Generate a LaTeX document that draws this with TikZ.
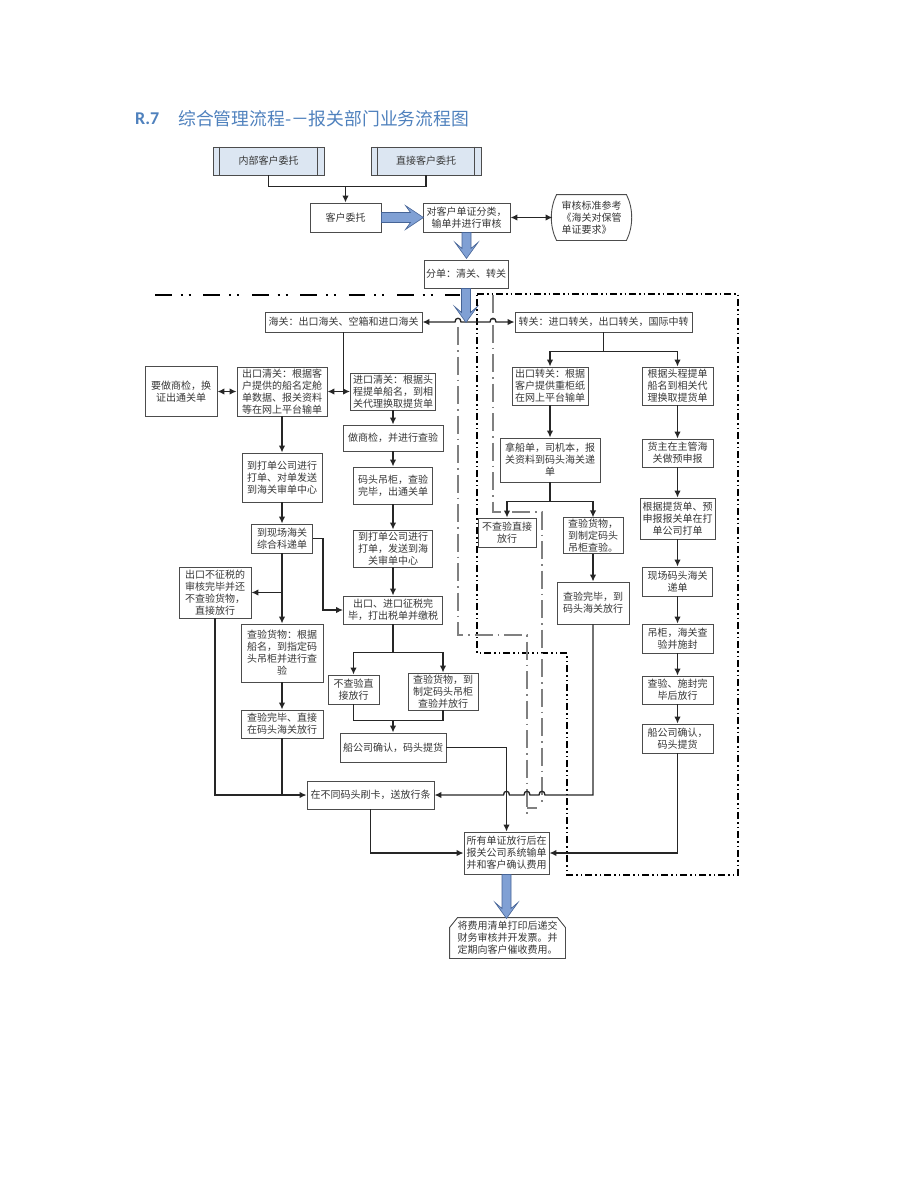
\documentclass[tikz,border=0pt]{standalone}
\usepackage{fontspec}
\usepackage{tikz}
\usetikzlibrary{calc,shapes,arrows.meta}
\newfontfamily\cjk{Noto Sans CJK SC}
\newfontfamily\latinf{Carlito}
\definecolor{titleblue}{RGB}{79,129,189}
\definecolor{blockblue}{RGB}{128,160,212}
\definecolor{blockedge}{RGB}{70,100,150}
\definecolor{boxfill}{RGB}{220,230,242}
\definecolor{textgray}{RGB}{55,55,55}
\tikzset{
  flowbox/.style={draw=black!70, line width=0.9pt, fill=white, align=center, inner sep=1pt,
    font=\cjk\fontsize{10}{12}\selectfont, text=textgray},
  shapetext/.style={flowbox, draw=none, fill=none},
  outline/.style={draw=black!70, line width=0.9pt},
  conn/.style={line width=1.3pt, black!85},
  blockarrow/.style={fill=blockblue, draw=blockedge, line width=0.6pt},
  zonea/.style={line width=2pt, dash pattern=on 16.7pt off 9pt on 2pt off 6pt on 2pt off 12.7pt},
  zoneb/.style={line width=2pt, dash pattern=on 7pt off 3pt on 1.5pt off 3pt on 1.5pt off 3pt},
  zonec/.style={line width=1.8pt, gray, dash pattern=on 18pt off 5pt on 1.5pt off 5pt},
  >={Latex[length=7pt,width=6.5pt]}
}
% blue block arrow pointing down: start point, length
\newcommand{\blockdown}[2]{%
  \filldraw[blockarrow] (#1) ++(-4.5,0) -- ++(0,#2-10) -- ++(-7,-6) -- ++(11.5,16)
    -- ++(11.5,-16) -- ++(-7,6) -- ++(0,10-#2) -- cycle;}

\begin{document}
\begin{tikzpicture}[x=1pt,y=-1pt]
\useasboundingbox (0,0) rectangle (920,1191);

% title
\node[anchor=west, inner sep=0, text=titleblue, font=\latinf\bfseries\fontsize{18}{20}\selectfont] (rnum) at (135,119) {R.7};
\node[anchor=west, inner sep=0, text=titleblue, font=\cjk\fontsize{17.8}{20}\selectfont] (title) at (178,119) {综合管理流程-－报关部门业务流程图};

% zone lines
\draw[zonea] (155,295) -- (460,295);
\draw[zoneb] (477,294) -- (738,294) -- (738,875) -- (567,875) -- (567,653) -- (477,653) -- cycle;
\draw[zonec] (458,327) -- (458,635) -- (527,635) -- (527,818);
\draw[gray, line width=1.8pt] (527,808) -- (537,808);
\draw[zonec] (493,295) -- (493,512) -- (542,512) -- (542,805);

% top part
\node[flowbox, fill=boxfill, minimum width=111pt, minimum height=28pt] (nbkh) at (268.5,161) {内部客户委托};
\node[flowbox, fill=boxfill, minimum width=110pt, minimum height=28pt] (zjkh) at (426,161) {直接客户委托};
\foreach \n in {nbkh,zjkh}
  \draw[outline] ([xshift=7pt]\n.north west) -- ([xshift=7pt]\n.south west)
    ([xshift=-7pt]\n.north east) -- ([xshift=-7pt]\n.south east);
\node[flowbox, minimum width=71pt, minimum height=29pt] (khwt) at (345.5,217.5) {客户委托};
\node[flowbox, minimum width=87pt, minimum height=29pt] (dzfl) at (466.5,217.5) {对客户单证分类，\\输单并进行审核};
\node[shapetext, align=left, minimum width=77pt, minimum height=45pt] (shbz) at (591.5,217.5) {审核标准参考\\《海关对保管\\单证要求》};
\draw[outline] ([xshift=4pt]shbz.north west) -- ([xshift=-4pt]shbz.north east)
  .. controls ([xshift=3pt,yshift=-14pt]shbz.north east) and ([xshift=3pt,yshift=14pt]shbz.south east) .. ([xshift=-4pt]shbz.south east)
  -- ([xshift=4pt]shbz.south west)
  .. controls ([xshift=-3pt,yshift=14pt]shbz.south west) and ([xshift=-3pt,yshift=-14pt]shbz.north west) .. cycle;
\node[flowbox, minimum width=84pt, minimum height=28pt] (fd) at (466,274) {分单：清关、转关};

% customs side
\node[flowbox, minimum width=157pt, minimum height=20pt] (hg) at (343.5,322) {海关：出口海关、空箱和进口海关};
\node[flowbox, minimum width=72pt, minimum height=50pt] (sj) at (181,391.5) {要做商检，换\\证出通关单};
\node[flowbox, minimum width=90pt, minimum height=49pt] (ckqg) at (282,391.5) {出口清关：根据客\\户提供的船名定舱\\单数据、报关资料\\等在网上平台输单};
\node[flowbox, minimum width=85pt, minimum height=37pt] (jkqg) at (393,391.5) {进口清关：根据头\\程提单船名，到相\\关代理换取提货单};
\node[flowbox, minimum width=100pt, minimum height=26pt] (zsj) at (393,438) {做商检，并进行查验};
\node[flowbox, minimum width=80pt, minimum height=49pt] (ddgs1) at (282,477.5) {到打单公司进行\\打单、对单发送\\到海关审单中心};
\node[flowbox, minimum width=79pt, minimum height=37pt] (mtdg) at (393,485.5) {码头吊柜，查验\\完毕，出通关单};
\node[flowbox, minimum width=61pt, minimum height=29pt] (xchg) at (282,538.5) {到现场海关\\综合科递单};
\node[flowbox, minimum width=79pt, minimum height=37pt] (ddgs2) at (393,548.5) {到打单公司进行\\打单，发送到海\\关审单中心};
\node[flowbox, minimum width=72pt, minimum height=51pt] (bzs) at (215,592.5) {出口不征税的\\审核完毕并还\\不查验货物，\\直接放行};
\node[flowbox, minimum width=99pt, minimum height=28pt] (zswb) at (393,610) {出口、进口征税完\\毕，打出税单并缴税};
\node[flowbox, minimum width=82pt, minimum height=58pt] (cyhw1) at (282,653) {查验货物：根据\\船名，到指定码\\头吊柜并进行查\\验};
\node[flowbox, minimum width=82pt, minimum height=28pt] (cywb1) at (282,724) {查验完毕、直接\\在码头海关放行};
\node[flowbox, minimum width=51pt, minimum height=29pt] (bcy1) at (353.5,689.5) {不查验直\\接放行};
\node[flowbox, minimum width=70pt, minimum height=37pt] (cyhw2) at (443,691.5) {查验货物，到\\制定码头吊柜\\查验并放行};
\node[flowbox, minimum width=106pt, minimum height=29pt] (cgs1) at (393,747.5) {船公司确认，码头提货};
\node[flowbox, minimum width=127pt, minimum height=28pt] (btmt) at (370.5,795) {在不同码头刷卡，送放行条};
\node[flowbox, minimum width=85pt, minimum height=42pt] (sydz) at (506.5,853) {所有单证放行后在\\报关公司系统输单\\并和客户确认费用};
\node[shapetext, minimum width=115pt, minimum height=40pt] (fyqd) at (507.5,938) {将费用清单打印后递交\\财务审核并开发票。并\\定期向客户催收费用。};
\draw[outline] ([yshift=-10pt]fyqd.north west) -- ([xshift=8pt]fyqd.north west) -- ([xshift=-8pt]fyqd.north east)
  -- ([yshift=-10pt]fyqd.north east) -- (fyqd.south east) -- (fyqd.south west) -- cycle;

% transit side
\node[flowbox, minimum width=177pt, minimum height=20pt] (zg) at (603.5,322) {转关：进口转关，出口转关，国际中转};
\node[flowbox, minimum width=76pt, minimum height=38pt] (ckzg) at (550,386) {出口转关：根据\\客户提供重柜纸\\在网上平台输单};
\node[flowbox, minimum width=71pt, minimum height=38pt] (gjtc) at (677.5,386) {根据头程提单\\船名到相关代\\理换取提货单};
\node[flowbox, minimum width=100pt, minimum height=44pt] (ncd) at (550,460) {拿船单，司机本，报\\关资料到码头海关递\\单};
\node[flowbox, minimum width=71pt, minimum height=28pt] (hzsb) at (677.5,453) {货主在主管海\\关做预申报};
\node[flowbox, minimum width=58pt, minimum height=29pt] (bcy2) at (507,532.5) {不查验直接\\放行};
\node[flowbox, minimum width=60pt, minimum height=35pt] (cyhw3) at (593,535.5) {查验货物，\\到制定码头\\吊柜查验。};
\node[flowbox, minimum width=72pt, minimum height=42pt] (cywb2) at (593,603) {查验完毕，到\\码头海关放行};
\node[flowbox, minimum width=75pt, minimum height=41pt] (gjth) at (677.5,518.5) {根据提货单、预\\申报报关单在打\\单公司打单};
\node[flowbox, minimum width=70pt, minimum height=29pt] (xcmt) at (677.5,581.5) {现场码头海关\\递单};
\node[flowbox, minimum width=71pt, minimum height=29pt] (dghg) at (677.5,638.5) {吊柜，海关查\\验并施封};
\node[flowbox, minimum width=71pt, minimum height=28pt] (cyfw) at (677.5,690) {查验、施封完\\毕后放行};
\node[flowbox, minimum width=71pt, minimum height=29pt] (cgs2) at (677.5,738.5) {船公司确认，\\码头提货};

% connectors
\draw[conn] (nbkh.south) -- ++(0,11) coordinate (wtjoin) -| (zjkh.south);
\draw[conn,->] (wtjoin -| khwt.north) -- (khwt.north);
\draw[conn,<->] (dzfl.east) -- (shbz.west);
\draw[conn,<->] (hg.east) -- (455,322) .. controls (455,317) and (461,317) .. (461,322)
  -- (490,322) .. controls (490,317) and (496,317) .. (496,322) -- (zg.west);
\draw[conn] (hg.south) -- (hg.south |- ckqg.east) coordinate (qgjoin);
\draw[conn,->] (qgjoin) -- (ckqg.east);
\draw[conn,->] (qgjoin) -- (jkqg.west);
\draw[conn,<->] (sj.east) -- (ckqg.west);
\foreach \a/\b in {ckqg/ddgs1, ddgs1/xchg, xchg/cyhw1, cyhw1/cywb1, jkqg/zsj, zsj/mtdg, mtdg/ddgs2,
    ddgs2/zswb, ckzg/ncd, cyhw3/cywb2, gjtc/hzsb, hzsb/gjth, gjth/xcmt, xcmt/dghg, dghg/cyfw, cyfw/cgs2}
  \draw[conn,->] (\a.south) -- (\b.north);
\draw[conn,->] (xchg.south |- bzs.east) -- (bzs.east);
\draw[conn,->] (xchg.east) -- ++(10,0) |- (zswb.west);
\draw[conn,->] (bzs.south) |- (btmt.west);
\draw[conn] (cywb1.south) -- (cywb1.south |- btmt.west);
\draw[conn] (zswb.south) -- ++(0,28) coordinate (zsjoin);
\draw[conn,->] (zsjoin) -| (bcy1.north);
\draw[conn,->] (zsjoin) -| (cyhw2.north);
\draw[conn] (bcy1.south) -- ++(0,16) coordinate (fxjoin) -| (cyhw2.south);
\draw[conn,->] (fxjoin -| cgs1.north) -- (cgs1.north);
\draw[conn,->] (cgs1.east) -| (sydz.north);
\draw[conn,->] (btmt.south) |- (sydz.west);
\draw[conn,->] (cgs2.south) |- (sydz.east);
\draw[conn,->] (cywb2.south) -- (cywb2.south |- btmt.east) -- (545,795) .. controls (545,790) and (539,790) .. (539,795)
  -- (530,795) .. controls (530,790) and (524,790) .. (524,795)
  -- (509.5,795) .. controls (509.5,790) and (503.5,790) .. (503.5,795) -- (btmt.east);
\draw[conn] (zg.south) -- ++(0,19) coordinate (zgjoin);
\draw[conn,->] (zgjoin) -| (ckzg.north);
\draw[conn,->] (zgjoin) -| (gjtc.north);
\draw[conn] (ncd.south) -- ++(0,19) coordinate (ncjoin);
\draw[conn,->] (ncjoin) -| (bcy2.north);
\draw[conn,->] (ncjoin) -| (cyhw3.north);

% blue block arrows
\filldraw[blockarrow] (khwt.east) ++(0,-5) -- ++(29,0) -- ++(-5,-7) -- ++(18,12) -- ++(-18,12) -- ++(5,-7) -- ++(-29,0) -- cycle;
\blockdown{dzfl.south}{26}
\blockdown{fd.south}{34}
\blockdown{sydz.south}{44}
\end{tikzpicture}
\end{document}
